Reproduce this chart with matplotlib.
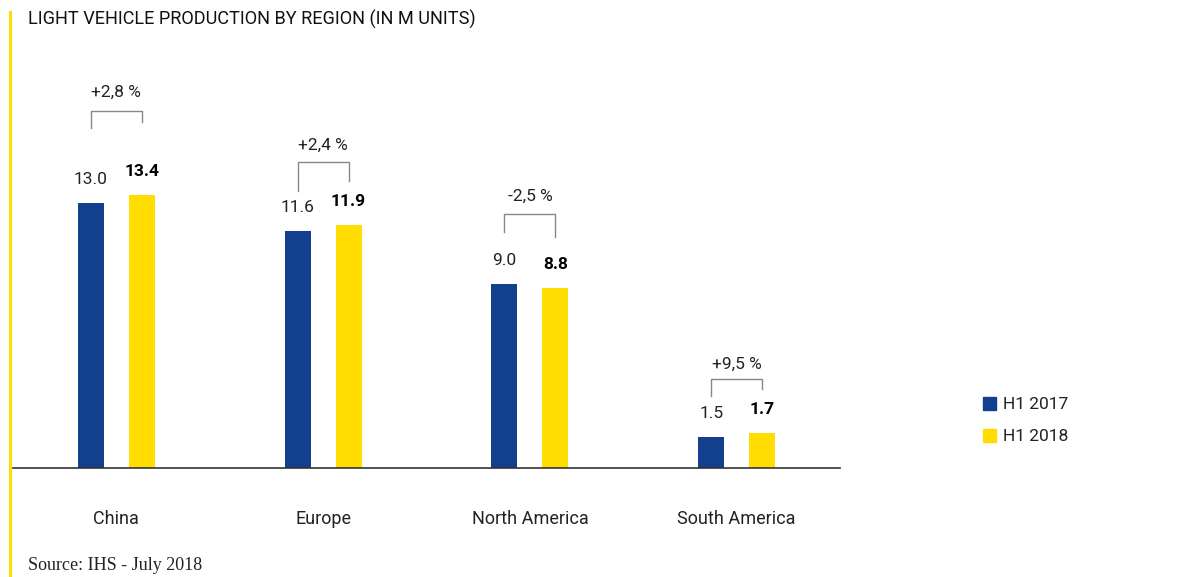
import matplotlib
matplotlib.use('Agg')
import matplotlib.pyplot as plt
from matplotlib.patches import Patch
import numpy as np

regions = ['China', 'Europe', 'North America', 'South America']
h1_2017 = [13.0, 11.6, 9.0, 1.5]
h1_2018 = [13.4, 11.9, 8.8, 1.7]
changes = ['+2,8 %', '+2,4 %', '-2,5 %', '+9,5 %']
series_names = ['H1 2017', 'H1 2018']

# bracket layout (data units): top, left leg end, right leg end, label
bracket_top = [17.5, 15.0, 12.45, 4.36]
bracket_left = [16.67, 13.58, 11.57, 3.53]
bracket_right = [16.96, 14.07, 11.32, 3.87]
pct_y = [18.4, 15.8, 13.3, 5.1]

blue = '#133F8F'
yellow = '#FFDD00'
txt = '#222222'

plt.rcParams['font.family'] = ['Roboto', 'DejaVu Sans']

fig = plt.figure(figsize=(11.88, 5.77), dpi=100)
ax = fig.add_axes([13 / 1188, 109 / 577, 827 / 1188, 408 / 577])

x = np.arange(len(regions))
off = 0.123
w = 0.126
ax.bar(x - off, h1_2017, w, color=blue)
ax.bar(x + off, h1_2018, w, color=yellow)

for i in range(len(regions)):
    ax.annotate(f'{h1_2017[i]:.1f}', (x[i] - off, h1_2017[i]), xytext=(0, 17),
                textcoords='offset points', ha='center', va='center',
                fontsize=12.5, color=txt)
    ax.annotate(f'{h1_2018[i]:.1f}', (x[i] + off, h1_2018[i]), xytext=(0, 17),
                textcoords='offset points', ha='center', va='center',
                fontsize=12.5, color='black', fontweight='bold')
    ax.plot([x[i] - off, x[i] - off, x[i] + off, x[i] + off],
            [bracket_left[i], bracket_top[i], bracket_top[i], bracket_right[i]],
            color='#888888', lw=1, clip_on=False)
    ax.text(x[i], pct_y[i], changes[i], ha='center', va='center',
            fontsize=12.5, color=txt, clip_on=False)

ax.set_xlim(-0.5, 3.5)
ax.set_ylim(0, 20)
ax.set_xticks(x)
ax.set_xticklabels(regions, fontsize=13, color=txt)
ax.tick_params(axis='x', length=0, pad=30.5)
ax.set_yticks([])
for s in ['top', 'right', 'left']:
    ax.spines[s].set_visible(False)
ax.spines['bottom'].set_color('#333333')
ax.spines['bottom'].set_linewidth(1.2)

handles = [Patch(color=blue), Patch(color=yellow)]
fig.legend(handles, series_names, loc='upper left',
           bbox_to_anchor=(983 / 1188, 1 - 397 / 577), frameon=False,
           borderpad=0, borderaxespad=0, handlelength=0.75, handleheight=0.75,
           handletextpad=0.4, labelspacing=0.95, prop={'size': 12.5},
           labelcolor=txt)

fig.text(28 / 1188, 1 - 19 / 577, 'LIGHT VEHICLE PRODUCTION BY REGION (IN M UNITS)',
         ha='left', va='center', fontsize=13.1, color='#111111')
fig.text(28 / 1188, 1 - 566 / 577, 'Source: IHS - July 2018', ha='left',
         va='center', fontsize=13, color=txt, family='Liberation Serif')
fig.add_artist(plt.Line2D([10 / 1188, 10 / 1188], [0, 1 - 12 / 577],
                          color=yellow, lw=2.2))

fig.savefig('out.png', dpi=100)
